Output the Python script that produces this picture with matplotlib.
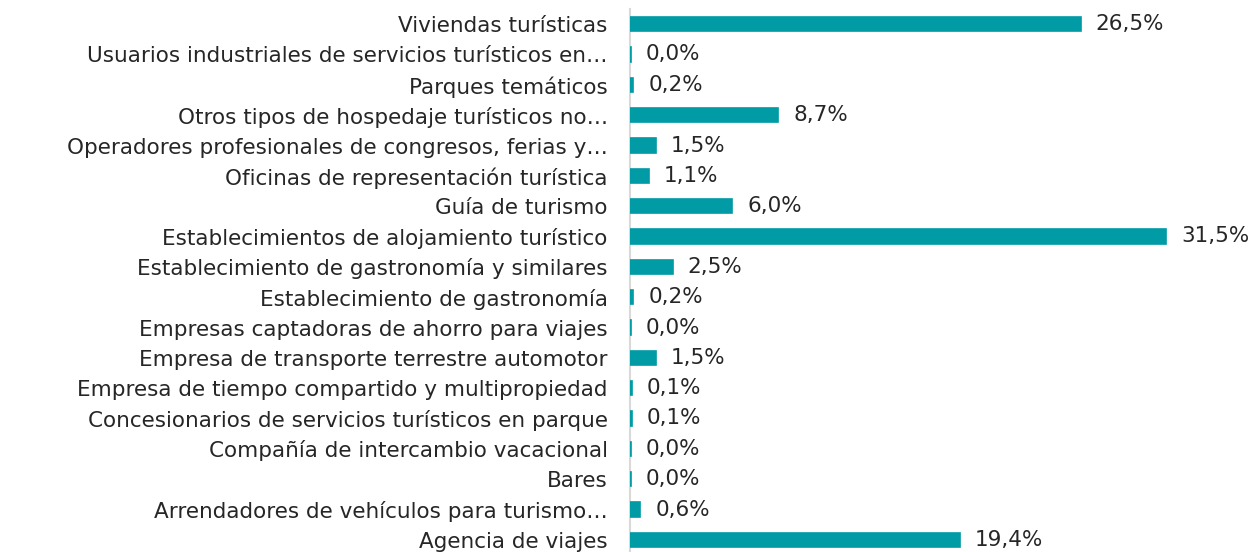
import matplotlib
matplotlib.use('Agg')
import matplotlib.pyplot as plt

# categories, bottom to top (as drawn by barh)
categories = [
    "Agencia de viajes",
    "Arrendadores de vehículos para turismo…",
    "Bares",
    "Compañía de intercambio vacacional",
    "Concesionarios de servicios turísticos en parque",
    "Empresa de tiempo compartido y multipropiedad",
    "Empresa de transporte terrestre automotor",
    "Empresas captadoras de ahorro para viajes",
    "Establecimiento de gastronomía",
    "Establecimiento de gastronomía y similares",
    "Establecimientos de alojamiento turístico",
    "Guía de turismo",
    "Oficinas de representación turística",
    "Operadores profesionales de congresos, ferias y…",
    "Otros tipos de hospedaje turísticos no…",
    "Parques temáticos",
    "Usuarios industriales de servicios turísticos en…",
    "Viviendas turísticas",
]
# shares in %, the "0,0%" ones are tiny but non-zero bars
shares = [19.4, 0.6, 0.04, 0.04, 0.1, 0.1, 1.5, 0.04, 0.2, 2.5,
          31.5, 6.0, 1.1, 1.5, 8.7, 0.2, 0.04, 26.5]

bar_color = '#009BA4'
text_color = '#262626'

plt.rcParams['font.family'] = ['DejaVu Sans']

fig = plt.figure(figsize=(12.54, 5.52), dpi=100)
ax = fig.add_axes([630 / 1254, -3 / 552, 624 / 1254, 546 / 552])

y = list(range(len(categories)))
ax.barh(y, shares, height=0.47, color=bar_color, edgecolor=bar_color,
        linewidth=1.2, zorder=3)

for yi, v in zip(y, shares):
    ax.text(v + 0.9, yi, f"{v:.1f}%".replace('.', ','), va='center', ha='left',
            fontsize=15.5, color=text_color)

ax.set_xlim(0, 36.7)
ax.set_ylim(-0.5, 17.5)
ax.set_yticks(y)
ax.set_yticklabels(categories, fontsize=15.5, color=text_color)
ax.tick_params(axis='y', length=0, pad=16)
ax.set_xticks([])
for s in ['top', 'right', 'bottom']:
    ax.spines[s].set_visible(False)
ax.spines['left'].set_color('#D9D9D9')
ax.spines['left'].set_linewidth(1.5)
ax.patch.set_alpha(0)

fig.savefig('out.png', dpi=100)
